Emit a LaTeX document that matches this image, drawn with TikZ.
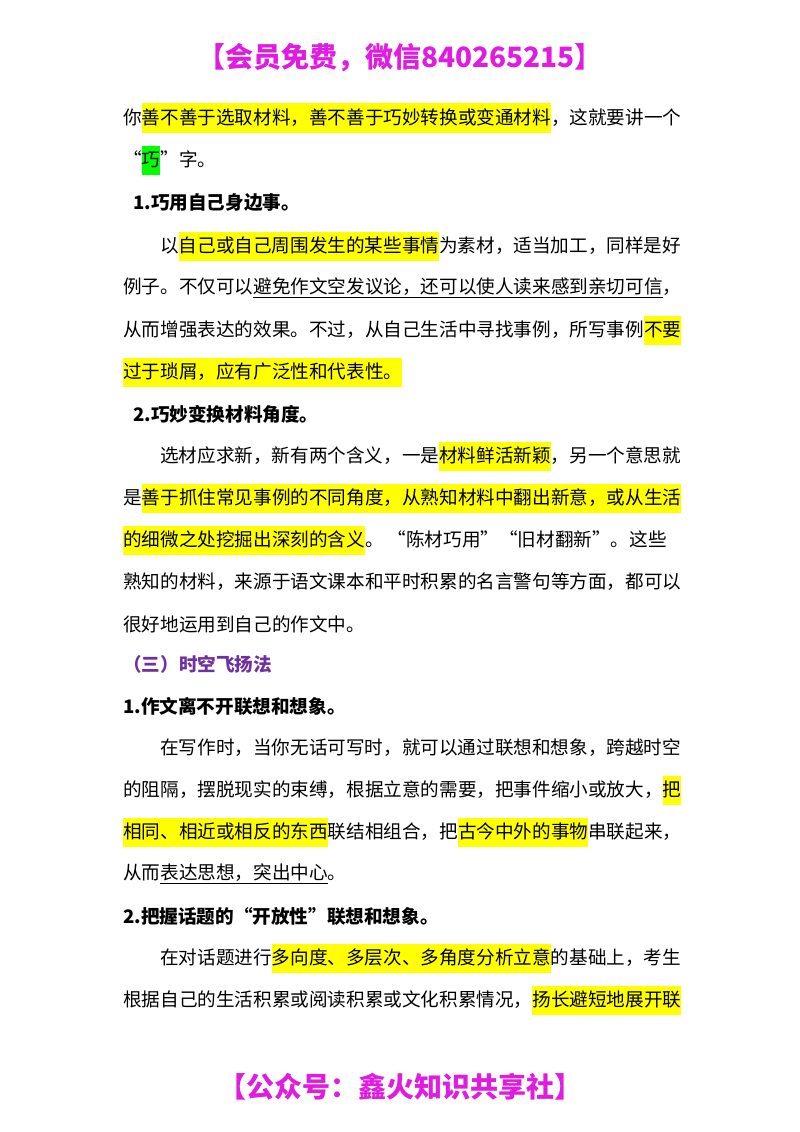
\documentclass[tikz,border=0pt]{standalone}
\usepackage{fontspec}
\newfontfamily\cjk{Noto Sans CJK SC}
\definecolor{hly}{HTML}{FFFF00}
\definecolor{hlg}{HTML}{00FF00}
\definecolor{mag}{HTML}{E01CE0}
\definecolor{pur}{HTML}{7030A0}
\newcommand\hlbox[2]{{\setlength\fboxsep{0pt}\colorbox{#1}{\rule[-8pt]{0pt}{29pt}#2}}}
\newcommand\hly[1]{\hlbox{hly}{#1}}
\newcommand\hlgr[1]{\hlbox{hlg}{#1}}
\newcommand\ulx[1]{\underline{#1}}
\begin{document}
\begin{tikzpicture}[x=1pt,y=-1pt,
  ln/.style={anchor=west,inner sep=0pt,font=\fontsize{18.6}{22}\cjk},
  hd/.style={ln,font=\fontsize{18.6}{22}\cjk\bfseries},
  big/.style={inner sep=0pt,text=mag,font=\fontsize{28}{32}\cjk\bfseries}]
\useasboundingbox[fill=white] (0,0) rectangle (800,1132);
\node[big] (t) at (400,58) {【会员免费，微信840265215】};
\node[ln] (l1) at (123,118) {你\hly{善不善于选取材料，善不善于巧妙转换或变通材料}，这就要讲一个};
\node[ln] (l2) at (123,160) {“\hlgr{巧}”字。};
\node[hd] (l3) at (133,203) {1.巧用自己身边事。};
\node[ln] (l4) at (160,246) {以\hly{自己或自己周围发生的某些事情}为素材，适当加工，同样是好};
\node[ln] (l5) at (123,288) {例子。不仅可以\ulx{避免作文空发议论，还可以使人读来感到亲切可信}，};
\node[ln] (l6) at (123,330) {从而增强表达的效果。不过，从自己生活中寻找事例，所写事例\hly{不要}};
\node[ln] (l7) at (123,372) {\hly{过于琐屑，应有广泛性和代表性。}};
\node[hd] (l8) at (133,414) {2.巧妙变换材料角度。};
\node[ln] (l9) at (160,456) {选材应求新，新有两个含义，一是\hly{材料鲜活新颖}，另一个意思就};
\node[ln] (l10) at (123,498) {是\hly{善于抓住常见事例的不同角度，从熟知材料中翻出新意，或从生活}};
\node[ln] (l11) at (123,540) {\hly{的细微之处挖掘出深刻的含义}。\ “陈材巧用”“旧材翻新”。这些};
\node[ln] (l12) at (123,582) {熟知的材料，来源于语文课本和平时积累的名言警句等方面，都可以};
\node[ln] (l13) at (123,624) {很好地运用到自己的作文中。};
\node[hd,text=pur] (l14) at (123,664) {（三）时空飞扬法};
\node[hd] (l15) at (123,706) {1.作文离不开联想和想象。};
\node[ln] (l16) at (160,748) {在写作时，当你无话可写时，就可以通过联想和想象，跨越时空};
\node[ln] (l17) at (123,790) {的阻隔，摆脱现实的束缚，根据立意的需要，把事件缩小或放大，\hly{把}};
\node[ln] (l18) at (123,832) {\hly{相同、相近或相反的东西}联结相组合，把\hly{古今中外的事物}串联起来，};
\node[ln] (l19) at (123,874) {从而\ulx{表达思想，突出中心}。};
\node[hd] (l20) at (123,916) {2.把握话题的“开放性”联想和想象。};
\node[ln] (l21) at (160,958) {在对话题进行\hly{多向度、多层次、多角度分析立意}的基础上，考生};
\node[ln] (l22) at (123,1000) {根据自己的生活积累或阅读积累或文化积累情况，\hly{扬长避短地展开联}};
\node[big] (f) at (400,1087) {【公众号：鑫火知识共享社】};
\end{tikzpicture}
\end{document}
